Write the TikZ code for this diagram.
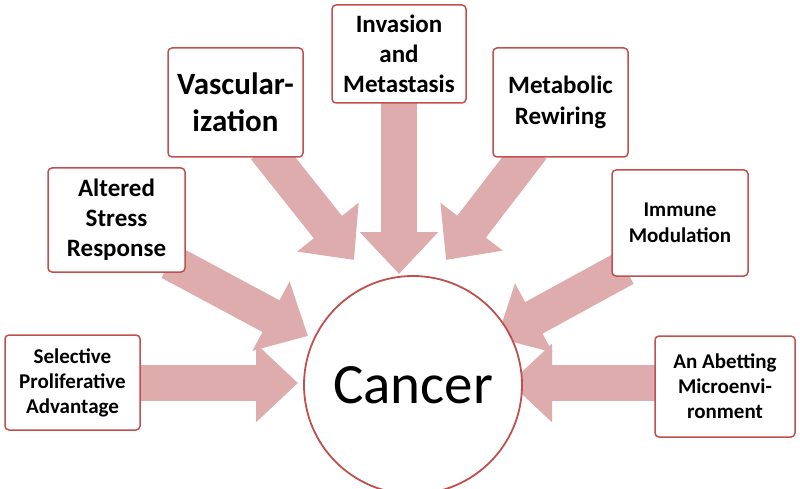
\documentclass[tikz,border=0pt]{standalone}
\usepackage{fontspec}
\setmainfont{Carlito}
\usetikzlibrary{arrows.meta}
\definecolor{bx}{RGB}{192,80,77}
\definecolor{ar}{RGB}{222,172,172}
\begin{document}
\begin{tikzpicture}[x=1pt,y=-1pt,
 box/.style={draw=bx,line width=1.5pt,rounded corners=4pt,fill=white,align=center,font=\bfseries\fontsize{20}{24}\selectfont,inner sep=0pt},
 arr/.style={draw=ar,line width=36pt,-{Triangle[width=76pt,length=42pt]}}]
\useasboundingbox (0,0) rectangle (800,489);
\coordinate (c) at (413,385);
\coordinate (t1) at (298,383);
\coordinate (t2) at (308,336);
\coordinate (t3) at (354,260);
\coordinate (t4) at (399,274);
\coordinate (t5) at (446,260);
\coordinate (t6) at (497,338);
\coordinate (t7) at (510,383);
\coordinate (s1) at (130,383);
\coordinate (s2) at (170,262);
\coordinate (s3) at (265,148);
\coordinate (s4) at (399,95);
\coordinate (s5) at (532,148);
\coordinate (s6) at (625,268);
\coordinate (s7) at (665,383);
\foreach \i in {1,...,7}{\draw[arr] (s\i) -- (t\i);}
\node[draw=bx,line width=1.8pt,fill=white,circle,minimum size=218pt,font=\fontsize{57}{64}\selectfont] (cancer) at (c) {Cancer};
\node[box,minimum width=135pt,minimum height=95pt,font=\bfseries\fontsize{21}{25}\selectfont] (b1) at (72.5,382.5) {Selective\\Proliferative\\Advantage};
\node[box,minimum width=137pt,minimum height=104pt,font=\bfseries\fontsize{25}{30}\selectfont] (b2) at (116.5,220) {Altered\\Stress\\Response};
\node[box,minimum width=135pt,minimum height=109pt,font=\bfseries\fontsize{31}{37}\selectfont] (b3) at (235.5,102.5) {Vascular-\\ization};
\node[box,minimum width=134pt,minimum height=98pt,font=\bfseries\fontsize{25}{30}\selectfont] (b4) at (399,54) {Invasion\\and\\Metastasis};
\node[box,minimum width=135pt,minimum height=109pt,font=\bfseries\fontsize{25}{31}\selectfont] (b5) at (560.5,102.5) {Metabolic\\Rewiring};
\node[box,minimum width=136pt,minimum height=106pt,font=\bfseries\fontsize{21}{26}\selectfont] (b6) at (680,223) {Immune\\Modulation};
\node[box,minimum width=140pt,minimum height=101pt,font=\bfseries\fontsize{21}{25}\selectfont] (b7) at (725,386.5) {An Abetting\\Microenvi-\\ronment};
\end{tikzpicture}
\end{document}
